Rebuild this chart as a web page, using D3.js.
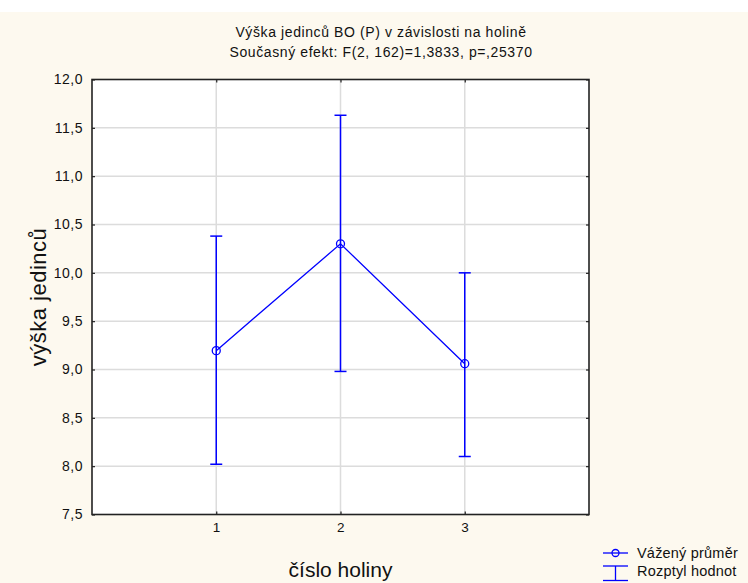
<!DOCTYPE html>
<html>
<head>
<meta charset="utf-8">
<script src="https://cdn.jsdelivr.net/npm/d3@7"></script>
<style>
  html, body { margin: 0; padding: 0; background: #fff; }
  svg { display: block; font-family: "Liberation Sans", Arial, sans-serif; }
</style>
</head>
<body>
<div id="chart"></div>
<script>
// data
const categories = ['1', '2', '3'];
const means = [9.195, 10.30, 9.06];
const upper = [10.38, 11.63, 10.0];
const lower = [8.02, 8.98, 8.10];
const yTicks = [7.5, 8.0, 8.5, 9.0, 9.5, 10.0, 10.5, 11.0, 11.5, 12.0];

const titleLines = ['Výška jedinců BO (P) v závislosti na holině', 'Současný efekt: F(2, 162)=1,3833, p=,25370'];
const xTitle = 'číslo holiny';
const yTitle = 'výška jedinců';
const legendLabels = ['Vážený průměr', 'Rozptyl hodnot'];

const W = 748, H = 583;
const m = { left: 92, right: 589, top: 79.5, bottom: 514.5 };
const blue = '#0000ff';

const svg = d3.select('#chart').append('svg')
  .attr('width', W).attr('height', H);

svg.append('rect').attr('x', 0).attr('y', 12).attr('width', W).attr('height', H - 12)
  .attr('fill', '#fdf9ef');

const x = d3.scaleLinear().domain([0, 4]).range([m.left, m.right]);
const y = d3.scaleLinear().domain([7.5, 12]).range([m.bottom, m.top]);
const fmt = d => d3.format('.1f')(d).replace('.', ',');

// plot background
svg.append('rect')
  .attr('x', m.left).attr('y', m.top)
  .attr('width', m.right - m.left).attr('height', m.bottom - m.top)
  .attr('fill', '#fff');

// grid
const grid = svg.append('g');
grid.selectAll('line.h').data(yTicks.slice(1, -1)).join('line')
  .attr('class', 'h')
  .attr('x1', m.left).attr('x2', m.right)
  .attr('y1', d => y(d)).attr('y2', d => y(d))
  .attr('stroke', '#dcdcdc').attr('stroke-width', 1.5);
grid.selectAll('line.v').data(categories).join('line')
  .attr('class', 'v')
  .attr('x1', (d, i) => x(i + 1)).attr('x2', (d, i) => x(i + 1))
  .attr('y1', m.top).attr('y2', m.bottom)
  .attr('stroke', '#dcdcdc').attr('stroke-width', 1.5);

// axes (ticks drawn inward, labels outside)
const yAxis = svg.append('g').attr('transform', `translate(${m.left},0)`)
  .call(d3.axisLeft(y).tickValues(yTicks).tickFormat(fmt).tickSize(-3).tickPadding(9));
const yAxisR = svg.append('g').attr('transform', `translate(${m.right},0)`)
  .call(d3.axisRight(y).tickValues(yTicks).tickFormat('').tickSize(-3));
const xAxis = svg.append('g').attr('transform', `translate(0,${m.bottom})`)
  .call(d3.axisBottom(x).tickValues([1, 2, 3]).tickFormat((d, i) => categories[i]).tickSize(-3).tickPadding(8));
const xAxisT = svg.append('g').attr('transform', `translate(0,${m.top})`)
  .call(d3.axisTop(x).tickValues([1, 2, 3]).tickFormat('').tickSize(-3));

[yAxis, yAxisR, xAxis, xAxisT].forEach(g => {
  g.select('.domain').remove();
  g.selectAll('.tick line').attr('stroke', '#222').attr('stroke-width', 1.2);
  g.selectAll('.tick text').attr('fill', '#111')
    .style('font-size', '14px').style('letter-spacing', '0.5px');
});
xAxis.selectAll('.tick text').style('font-size', '13.5px');

// frame
svg.append('rect')
  .attr('x', m.left).attr('y', m.top)
  .attr('width', m.right - m.left).attr('height', m.bottom - m.top)
  .attr('fill', 'none').attr('stroke', '#222').attr('stroke-width', 1.6);

// error bars
const bars = svg.append('g').attr('stroke', blue).attr('stroke-width', 1.5).attr('fill', 'none');
categories.forEach((c, i) => {
  const cx = x(i + 1);
  bars.append('line').attr('x1', cx).attr('x2', cx).attr('y1', y(upper[i])).attr('y2', y(lower[i]));
  bars.append('line').attr('x1', cx - 6).attr('x2', cx + 6).attr('y1', y(upper[i])).attr('y2', y(upper[i]));
  bars.append('line').attr('x1', cx - 6).attr('x2', cx + 6).attr('y1', y(lower[i])).attr('y2', y(lower[i]));
});

// mean line + markers
const line = d3.line().x((d, i) => x(i + 1)).y(d => y(d));
svg.append('path').datum(means)
  .attr('d', line).attr('fill', 'none').attr('stroke', blue).attr('stroke-width', 1.3);
svg.append('g').selectAll('circle').data(means).join('circle')
  .attr('cx', (d, i) => x(i + 1)).attr('cy', d => y(d)).attr('r', 4)
  .attr('fill', 'none').attr('stroke', blue).attr('stroke-width', 1.3);

// titles
svg.append('g').selectAll('text').data(titleLines).join('text')
  .attr('x', 381).attr('y', (d, i) => 37 + i * 20)
  .attr('text-anchor', 'middle').style('font-size', '14px').style('letter-spacing', '0.6px')
  .attr('fill', '#111')
  .text(d => d);

svg.append('text')
  .attr('x', (m.left + m.right) / 2).attr('y', 577)
  .attr('text-anchor', 'middle').style('font-size', '21px').attr('fill', '#111')
  .text(xTitle);

svg.append('text')
  .attr('transform', `translate(46,${(m.top + m.bottom) / 2}) rotate(-90)`)
  .attr('text-anchor', 'middle').style('font-size', '22px').style('letter-spacing', '0.5px')
  .attr('fill', '#111')
  .text(yTitle);

// legend
const lg = svg.append('g');
lg.append('line').attr('x1', 603).attr('x2', 628).attr('y1', 553).attr('y2', 553)
  .attr('stroke', blue).attr('stroke-width', 1.3);
lg.append('circle').attr('cx', 615.5).attr('cy', 553).attr('r', 3.5)
  .attr('fill', 'none').attr('stroke', blue).attr('stroke-width', 1.3);
lg.append('line').attr('x1', 615.5).attr('x2', 615.5).attr('y1', 566).attr('y2', 580.5)
  .attr('stroke', blue).attr('stroke-width', 1.3);
lg.append('line').attr('x1', 603).attr('x2', 628).attr('y1', 566).attr('y2', 566)
  .attr('stroke', blue).attr('stroke-width', 1.3);
lg.append('line').attr('x1', 603).attr('x2', 628).attr('y1', 580.5).attr('y2', 580.5)
  .attr('stroke', blue).attr('stroke-width', 1.3);
lg.selectAll('text').data(legendLabels).join('text')
  .attr('x', 637).attr('y', (d, i) => 558 + i * 18)
  .style('font-size', '14.5px').style('letter-spacing', '0.2px').attr('fill', '#111')
  .text(d => d);
</script>
</body>
</html>
